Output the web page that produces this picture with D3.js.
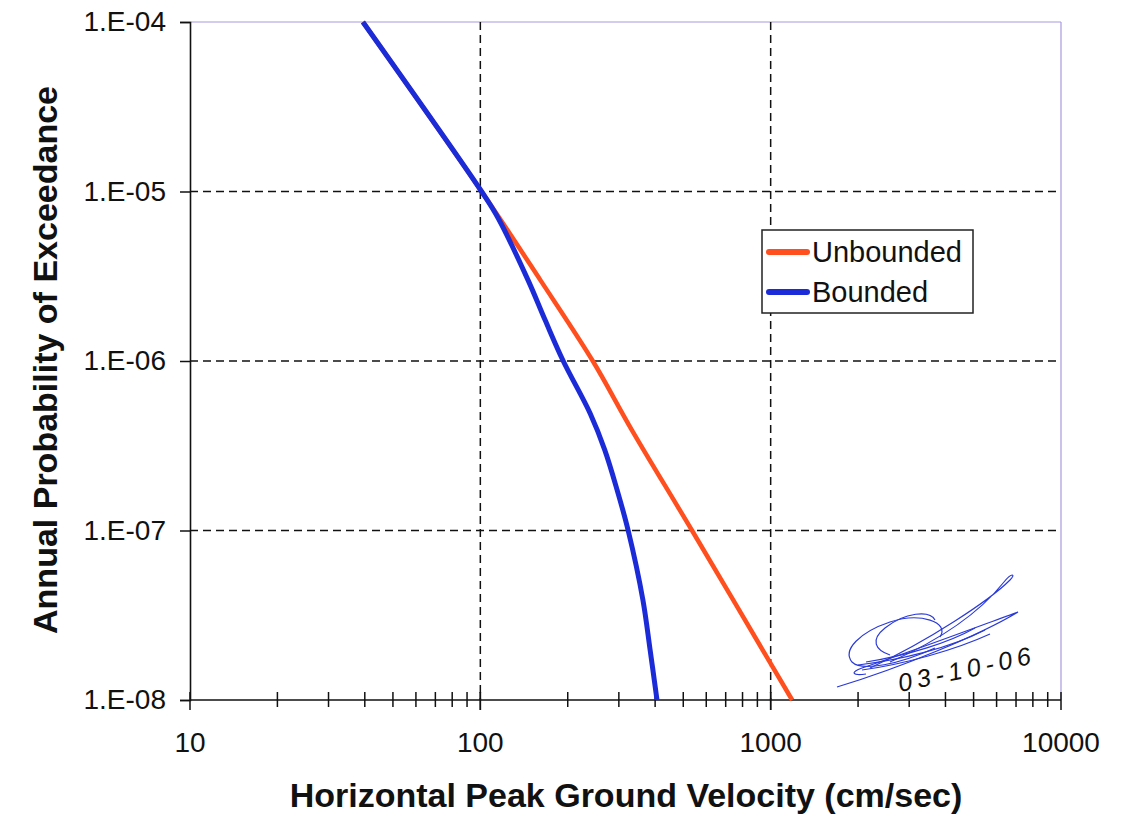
<!DOCTYPE html>
<html>
<head>
<meta charset="utf-8">
<script src="https://cdn.jsdelivr.net/npm/d3@7"></script>
<style>
  body { margin: 0; background: #fff; }
  svg { display: block; }
  text { font-family: Arial, "Liberation Sans", sans-serif; fill: #111; }
</style>
</head>
<body>
<svg id="chart" width="1123" height="816"></svg>
<script>
// values (cm/sec vs annual probability)
var xTicks = [10, 100, 1000, 10000];
var yTicks = [1e-8, 1e-7, 1e-6, 1e-5, 1e-4];

var unboundedPGV  = [39.4, 101, 161, 244, 333, 536, 1186];
var unboundedProb = [1e-4, 1e-5, 3.0e-6, 1e-6, 3.9e-7, 1e-7, 1e-8];

var boundedPGV  = [39.4, 101, 115, 146, 167, 193, 239, 268, 296, 323, 363, 384, 406];
var boundedProb = [1e-4, 1e-5, 7.0e-6, 3.0e-6, 1.75e-6, 1e-6, 4.9e-7, 3.0e-7, 1.73e-7, 1e-7, 3.9e-8, 2.0e-8, 1e-8];

var seriesNames  = ['Unbounded', 'Bounded'];
var seriesColors = ['#ff4f1e', '#1c2bd8'];

var svg = d3.select('#chart');
var pLeft = 190, pRight = 1061, pTop = 22, pBottom = 700;

var x = d3.scaleLog().domain([10, 10000]).range([pLeft, pRight]);
var y = d3.scaleLog().domain([1e-8, 1e-4]).range([pBottom, pTop]);

svg.append('rect').attr('width', 1123).attr('height', 816).attr('fill', '#ffffff');

// frame: light top / right edges
svg.append('line').attr('x1', pLeft).attr('x2', pRight).attr('y1', pTop).attr('y2', pTop)
    .attr('stroke', '#a89ae0').attr('stroke-width', 1.2);
svg.append('line').attr('x1', pRight).attr('x2', pRight).attr('y1', pTop).attr('y2', pBottom)
    .attr('stroke', '#a89ae0').attr('stroke-width', 1.2);

// dashed grid
var grid = svg.append('g').attr('stroke', '#111').attr('stroke-width', 1.5).attr('stroke-dasharray', '8,5');
grid.selectAll('.gx').data(xTicks.slice(1, 3)).enter().append('line')
    .attr('x1', d => x(d)).attr('x2', d => x(d)).attr('y1', pTop).attr('y2', pBottom);
grid.selectAll('.gy').data(yTicks.slice(1, 4)).enter().append('line')
    .attr('x1', pLeft).attr('x2', pRight).attr('y1', d => y(d)).attr('y2', d => y(d));

// y axis
var fmtE = function(d) {
    var e = Math.round(-Math.log10(d));
    return '1.E-' + (e < 10 ? '0' + e : e);
};
var yAxis = svg.append('g').attr('transform', 'translate(' + pLeft + ',0)')
    .call(d3.axisLeft(y).tickValues(yTicks).tickFormat(fmtE).tickSize(10).tickPadding(14));
yAxis.select('.domain').attr('stroke', '#111').attr('stroke-width', 1.6);
yAxis.selectAll('.tick line').attr('stroke', '#111').attr('stroke-width', 1.5);
yAxis.selectAll('.tick text').attr('font-size', 28).attr('fill', '#111')
    .attr('font-family', 'Arial, "Liberation Sans", sans-serif');

// x axis with minor ticks crossing the line
var minor = [];
for (var dec = 10; dec < 10000; dec *= 10)
    for (var k = 1; k <= 10; k++) minor.push(dec * k);
svg.append('line').attr('x1', pLeft).attr('x2', pRight).attr('y1', pBottom).attr('y2', pBottom)
    .attr('stroke', '#111').attr('stroke-width', 1.6);
svg.append('g').selectAll('line').data(minor).enter().append('line')
    .attr('x1', d => x(d)).attr('x2', d => x(d))
    .attr('y1', pBottom - 8).attr('y2', d => xTicks.indexOf(d) >= 0 ? pBottom + 10 : pBottom + 7)
    .attr('stroke', '#111').attr('stroke-width', 1.5);
svg.append('g').selectAll('text').data(xTicks).enter().append('text')
    .attr('x', d => x(d)).attr('y', 752)
    .attr('text-anchor', 'middle').attr('font-size', 28)
    .text(d => d);

// curves
var line = d3.line()
    .x(d => x(d[0])).y(d => y(d[1]))
    .curve(d3.curveCatmullRom.alpha(0.5));
var seriesData = [
    d3.zip(unboundedPGV, unboundedProb),
    d3.zip(boundedPGV, boundedProb)
];
var plot = svg.append('g');
plot.append('path').datum(seriesData[0]).attr('d', line)
    .attr('fill', 'none').attr('stroke', seriesColors[0]).attr('stroke-width', 4.5);
plot.append('path').datum(seriesData[1]).attr('d', line)
    .attr('fill', 'none').attr('stroke', seriesColors[1]).attr('stroke-width', 5);

// legend
var lg = svg.append('g').attr('transform', 'translate(762,230)');
lg.append('rect').attr('width', 211).attr('height', 83)
    .attr('fill', '#fff').attr('stroke', '#222').attr('stroke-width', 1.5);
seriesNames.forEach(function(name, i) {
    var ly = 22 + i * 40;
    lg.append('line').attr('x1', 7).attr('x2', 45).attr('y1', ly).attr('y2', ly)
        .attr('stroke', seriesColors[i]).attr('stroke-width', 6).attr('stroke-linecap', 'round');
    lg.append('text').attr('x', 50).attr('y', ly + 10).attr('font-size', 29).text(name);
});

// axis titles
svg.append('text').attr('x', 626).attr('y', 807).attr('text-anchor', 'middle')
    .attr('font-size', 34).attr('font-weight', 'bold')
    .text('Horizontal Peak Ground Velocity (cm/sec)');
svg.append('text').attr('transform', 'translate(57,360) rotate(-90)').attr('text-anchor', 'middle')
    .attr('font-size', 34).attr('font-weight', 'bold')
    .text('Annual Probability of Exceedance');

// handwritten signature and date
var sig = svg.append('g').attr('fill', 'none').attr('stroke', '#2a3ad8').attr('stroke-width', 1.2);
sig.append('path').attr('d', 'M837,687 C900,668 980,635 1018,612 C990,622 930,645 862,668 C850,672 852,676 866,674');
sig.append('path').attr('d', 'M870,668 C930,640 990,600 1010,580 C1016,574 1012,572 1004,582 C980,612 940,640 890,662');
sig.append('path').attr('d', 'M940,637 C950,622 920,612 890,622 C860,632 842,650 852,662 C862,672 900,664 935,648');
sig.append('path').attr('d', 'M935,620 C930,610 905,612 885,628 C870,640 875,650 890,655');
sig.append('path').attr('d', 'M858,665 C900,660 950,648 985,630');
sig.append('path').attr('d', 'M862,670 C905,664 955,650 990,634');
sig.append('path').attr('d', 'M866,662 C910,655 950,642 975,628');
sig.append('text').attr('transform', 'translate(900,692) rotate(-12)')
    .attr('font-size', 25).attr('font-style', 'italic').attr('fill', '#2a3ad8').attr('stroke', 'none')
    .attr('font-family', '"DejaVu Sans", sans-serif').attr('font-weight', 200).attr('letter-spacing', 5)
    .text('03-10-06');
</script>
</body>
</html>
